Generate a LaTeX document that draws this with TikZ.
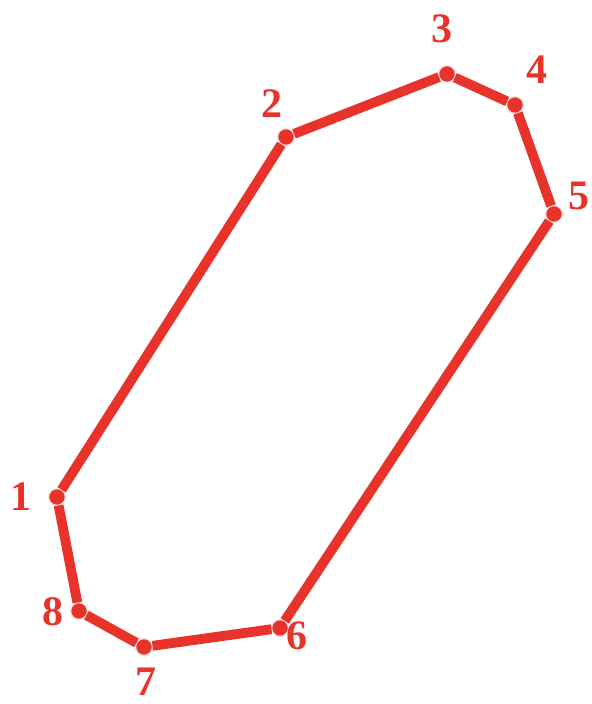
\documentclass[tikz,border=0pt]{standalone}
\usepackage{fontspec}
\setmainfont{Liberation Serif}
\definecolor{pgRed}{HTML}{E8332B}

\begin{document}
\begin{tikzpicture}[
  x=0.5pt,y=-0.5pt,
  font=\bfseries\fontsize{21}{23}\selectfont,
  every node/.style={text=pgRed,outer sep=0pt},
  vtx/.style={circle,fill=pgRed,draw=pgRed!12,line width=0.8pt,inner sep=0pt,minimum size=8.6pt},
  lbl/.style={inner sep=0pt},
  edge/.style={draw=pgRed,line width=4.9pt}
]
\path[use as bounding box] (0,0) rectangle (591,704);
% corners of the outline
\node[vtx] (v1) at (57,497) {};
\node[vtx] (v2) at (286,137) {};
\node[vtx] (v3) at (447,74) {};
\node[vtx] (v4) at (515,105) {};
\node[vtx] (v5) at (554,214) {};
\node[vtx] (v6) at (280,628) {};
\node[vtx] (v7) at (144,647) {};
\node[vtx] (v8) at (79,611) {};
% outline
\draw[edge] (v1) -- (v2);
\draw[edge] (v2) -- (v3);
\draw[edge] (v3) -- (v4);
\draw[edge] (v4) -- (v5);
\draw[edge] (v5) -- (v6);
\draw[edge] (v6) -- (v7);
\draw[edge] (v7) -- (v8);
\draw[edge] (v8) -- (v1);
% numbers
\node[lbl] (l1) at (21,497) {1};
\node[lbl] (l2) at (272,104) {2};
\node[lbl] (l3) at (442,29) {3};
\node[lbl] (l4) at (537,70) {4};
\node[lbl] (l5) at (579,196) {5};
\node[lbl] (l6) at (297,636) {6};
\node[lbl] (l7) at (146,682) {7};
\node[lbl] (l8) at (53,612) {8};
\end{tikzpicture}
\end{document}
